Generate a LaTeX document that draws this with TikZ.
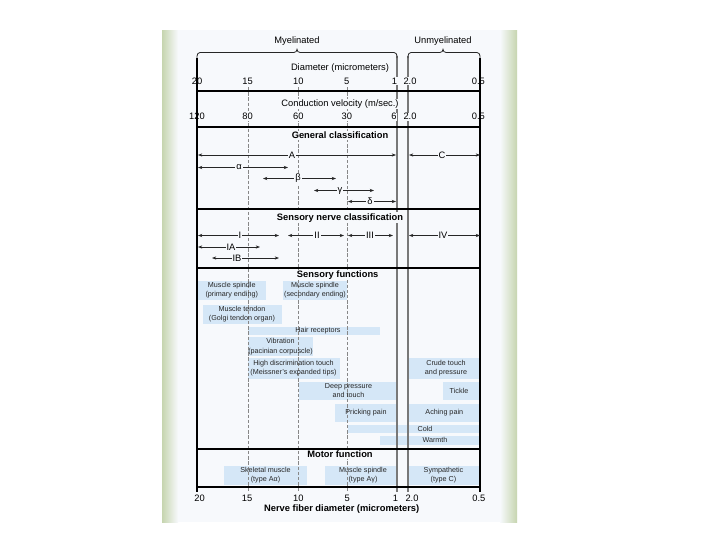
\documentclass[tikz,border=0pt]{standalone}
\usepackage{fontspec}
\setmainfont{Liberation Sans}
\usetikzlibrary{arrows.meta}
\definecolor{panelbg}{RGB}{247,249,252}
\definecolor{edgegreen}{RGB}{198,213,175}
\definecolor{boxblue}{RGB}{213,231,247}
\definecolor{sepgray}{RGB}{120,120,120}
\definecolor{dashgray}{RGB}{135,135,135}
\tikzset{
  hframe/.style={line width=0.9pt, black},
  vframe/.style={line width=0.8pt, black},
  graysep/.style={line width=0.8pt, sepgray},
  dashsep/.style={line width=0.6pt, dashgray, dash pattern=on 2.5pt off 1.4pt},
  dimarrow/.style={line width=0.5pt, black!85, {Stealth[length=3.2pt,width=2.4pt]}-{Stealth[length=3.2pt,width=2.4pt]}},
  alabel/.style={fill=panelbg, inner sep=0.8pt, font=\fontsize{7}{8}\selectfont},
  num/.style={fill=panelbg, inner sep=0.6pt, font=\fontsize{7}{8}\selectfont},
  numnf/.style={inner sep=0.6pt, font=\fontsize{7}{8}\selectfont},
  sectitle/.style={fill=panelbg, font=\fontsize{7}{8}\selectfont\bfseries, inner sep=0.8pt},
  axtitle/.style={fill=panelbg, font=\fontsize{7}{8}\selectfont, inner sep=0.8pt},
  fnbox/.style={fill=boxblue},
  fntext/.style={font=\fontsize{5.4}{7}\selectfont, align=center, inner sep=0pt, text=black!85},
  bracepath/.style={line width=0.6pt, black!85}
}
\begin{document}
\begin{tikzpicture}[x=0.75pt,y=-0.75pt]
\useasboundingbox (0,0) rectangle (720,540);
% panel
\fill[white] (0,0) rectangle (720,540);
\fill[panelbg] (162,30) rectangle (517,522);
\shade[left color=edgegreen, right color=panelbg] (162,30) rectangle (178,522);
\shade[left color=panelbg, right color=edgegreen] (500,30) rectangle (517,522);

% function boxes (fills)
\fill[fnbox] (198,281) rectangle (266,299.5);
\fill[fnbox] (283,281) rectangle (347,299.5);
\fill[fnbox] (203,304.5) rectangle (282,323.5);
\fill[fnbox] (248,327) rectangle (380,335);
\fill[fnbox] (248,337) rectangle (313,356);
\fill[fnbox] (248,358) rectangle (340,378.5);
\fill[fnbox] (408,358) rectangle (480,378.5);
\fill[fnbox] (299,381.5) rectangle (396,400);
\fill[fnbox] (443,381.5) rectangle (480,400);
\fill[fnbox] (335,403.5) rectangle (396,422);
\fill[fnbox] (408,403.5) rectangle (480,422);
\fill[fnbox] (348,425) rectangle (480,433);
\fill[fnbox] (380,436) rectangle (480,444.5);
\fill[fnbox] (224,465.5) rectangle (307,484.5);
\fill[fnbox] (325,465.5) rectangle (397,484.5);
\fill[fnbox] (408,465.5) rectangle (480,484.5);

% dashed and gray vertical lines
\draw[dashsep] (248,87) -- (248,492);
\draw[dashsep] (298,87) -- (298,492);
\draw[dashsep] (347,87) -- (347,492);
\draw[graysep] (397,56) -- (397,492);
\draw[graysep] (408,56) -- (408,492);

% frame
\draw[vframe] (197,58) -- (197,492);
\draw[vframe] (480,58) -- (480,492);
\foreach \yy in {91,127,209,268,449,487} \draw[hframe] (197,\yy) -- (480,\yy);

% braces
\draw[bracepath] (197,58) -- (197,56) to[out=90,in=180] (200,52.5) -- (294,52.5) to[out=0,in=-90] (297,49.3) to[out=-90,in=180] (300,52.5) -- (394,52.5) to[out=0,in=90] (397,56) -- (397,58);
\draw[bracepath] (408,58) -- (408,56) to[out=90,in=180] (411,52.5) -- (440,52.5) to[out=0,in=-90] (443,49.3) to[out=-90,in=180] (446,52.5) -- (477,52.5) to[out=0,in=90] (480,56) -- (480,58);
\node[numnf] (myel) at (297,40.7) {Myelinated};
\node[numnf] (unmyel) at (443,40.7) {Unmyelinated};

% axis titles
\node[axtitle] (diam) at (340,67.7) {Diameter (micrometers)};
\node[axtitle] (cond) at (340,104) {Conduction velocity (m/sec.)};

% row 1 numbers
\node[numnf] (d20) at (197,81) {20};
\node[num] (d15) at (247.5,81) {15};
\node[num] (d10) at (298.3,81) {10};
\node[num] (d5) at (346.8,81) {5};
\node[num] (d1) at (394.5,81) {1};
\node[num] (d2) at (410,81) {2.0};
\node[numnf] (d05) at (478.3,81) {0.5};
% row 2 numbers
\node[numnf] (v120) at (197,116.7) {120};
\node[num] (v80) at (247.5,116.7) {80};
\node[num] (v60) at (298.3,116.7) {60};
\node[num] (v30) at (346.8,116.7) {30};
\node[num] (v6) at (394,116.7) {6};
\node[num] (v2) at (410,116.7) {2.0};
\node[numnf] (v05) at (478.3,116.7) {0.5};

% section titles
\node[sectitle] (gc) at (340,135) {General classification};
\node[sectitle] (snc) at (340,217.7) {Sensory nerve classification};
\node[sectitle] (sf) at (337.7,275) {Sensory functions};
\node[sectitle] (mf) at (340,454.5) {Motor function};

% general classification arrows
\coordinate (aL) at (198,155); \coordinate (aR) at (396,155);
\draw[dimarrow] (aL) -- (aR); \node[alabel] (lA) at (292,155) {A};
\coordinate (cL) at (409,155); \coordinate (cR) at (480,155);
\draw[dimarrow] (cL) -- (cR); \node[alabel] (lC) at (442,155) {C};
\coordinate (alL) at (198,167.5); \coordinate (alR) at (288,167.5);
\draw[dimarrow] (alL) -- (alR); \node[alabel] (lal) at (239,167.5) {α};
\coordinate (beL) at (263,178.5); \coordinate (beR) at (336,178.5);
\draw[dimarrow] (beL) -- (beR); \node[alabel] (lbe) at (298,178.5) {β};
\coordinate (gaL) at (314,190.5); \coordinate (gaR) at (374,190.5);
\draw[dimarrow] (gaL) -- (gaR); \node[alabel] (lga) at (340,190.5) {γ};
\coordinate (deL) at (348,201.5); \coordinate (deR) at (396,201.5);
\draw[dimarrow] (deL) -- (deR); \node[alabel] (lde) at (370,201.5) {δ};

% sensory nerve classification arrows
\coordinate (iL) at (198,235.5); \coordinate (iR) at (279,235.5);
\draw[dimarrow] (iL) -- (iR); \node[alabel] (lI) at (240,235.5) {I};
\coordinate (iiL) at (288,235.5); \coordinate (iiR) at (344,235.5);
\draw[dimarrow] (iiL) -- (iiR); \node[alabel] (lII) at (317,235.5) {II};
\coordinate (iiiL) at (348,235.5); \coordinate (iiiR) at (393,235.5);
\draw[dimarrow] (iiiL) -- (iiiR); \node[alabel] (lIII) at (370,235.5) {III};
\coordinate (ivL) at (409,235.5); \coordinate (ivR) at (480,235.5);
\draw[dimarrow] (ivL) -- (ivR); \node[alabel] (lIV) at (443,235.5) {IV};
\coordinate (iaL) at (198,247); \coordinate (iaR) at (260,247);
\draw[dimarrow] (iaL) -- (iaR); \node[alabel] (lIA) at (231,247) {IA};
\coordinate (ibL) at (212,258); \coordinate (ibR) at (279,258);
\draw[dimarrow] (ibL) -- (ibR); \node[alabel] (lIB) at (237,258) {IB};

% function box texts
\node[fntext] (ms1) at (231.8,290.3) {Muscle spindle\\(primary ending)};
\node[fntext] (ms2) at (315,290.3) {Muscle spindle\\(secondary ending)};
\node[fntext] (mt) at (242,314) {Muscle tendon\\(Golgi tendon organ)};
\node[fntext] (hair) at (318,331) {Hair receptors};
\node[fntext] (vib) at (280.5,346.5) {Vibration\\(pacinian corpuscle)};
\node[fntext] (hdt) at (293.5,368.2) {High discrimination touch\\(Meissner's expanded tips)};
\node[fntext] (crude) at (446,368.2) {Crude touch\\and pressure};
\node[fntext] (deep) at (348.5,390.8) {Deep pressure\\and touch};
\node[fntext] (tickle) at (459,390.8) {Tickle};
\node[fntext] (prick) at (366,412.8) {Pricking pain};
\node[fntext] (aching) at (444.3,412.8) {Aching pain};
\node[fntext] (cold) at (425,429) {Cold};
\node[fntext] (warmth) at (435,440.3) {Warmth};
\node[fntext] (skel) at (265.5,475) {Skeletal muscle\\(type Aα)};
\node[fntext] (mspin) at (363,475) {Muscle spindle\\(type Aγ)};
\node[fntext] (symp) at (443.5,475) {Sympathetic\\(type C)};

% bottom numbers
\node[num] (b20) at (199.5,498.3) {20};
\node[num] (b15) at (247,498.3) {15};
\node[num] (b10) at (298.3,498.3) {10};
\node[num] (b5) at (347.3,498.3) {5};
\node[num] (b1) at (395.5,498.3) {1};
\node[num] (b2) at (412,498.3) {2.0};
\node[num] (b05) at (478.8,498.3) {0.5};
\node[sectitle] (xlab) at (341.7,509.5) {Nerve fiber diameter (micrometers)};
\end{tikzpicture}
\end{document}
